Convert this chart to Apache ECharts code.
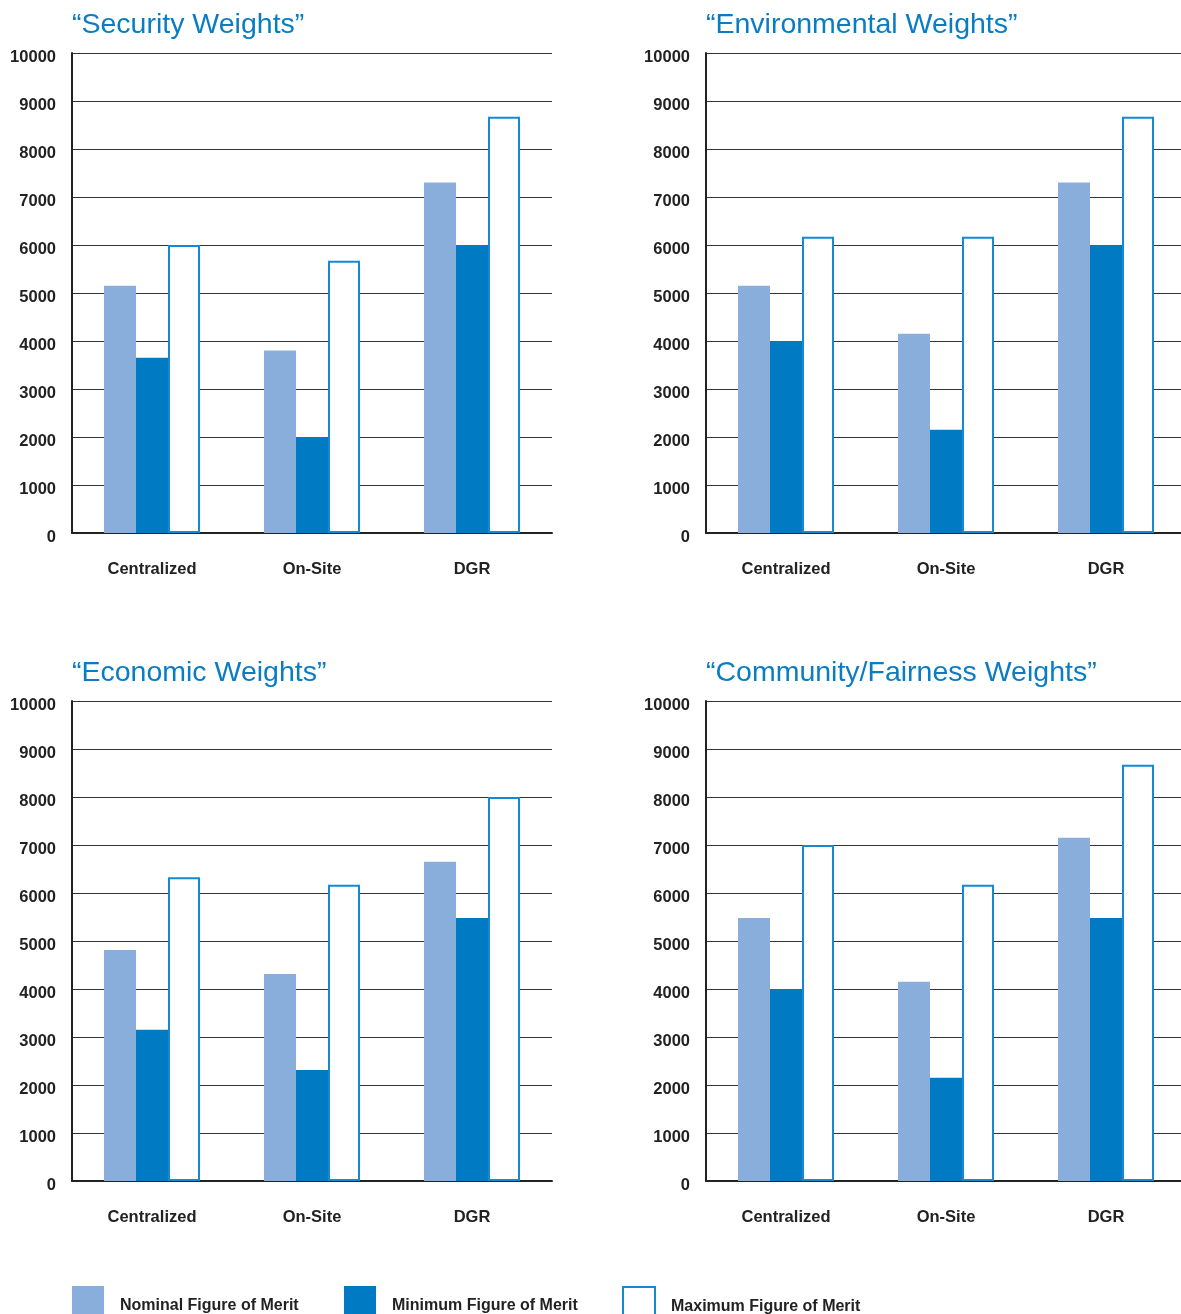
<!DOCTYPE html>
<html><head><meta charset="utf-8">
<script src="https://cdn.jsdelivr.net/npm/echarts@6/dist/echarts.min.js"></script>
<style>html,body{margin:0;padding:0;background:#fff;overflow:hidden}#c{width:1200px;height:1314px}</style>
</head><body><div id="c"></div>
<script>
const categories = ["Centralized", "On-Site", "DGR"];
const yTicks = [0,1000,2000,3000,4000,5000,6000,7000,8000,9000,10000];
const seriesNames = ["Nominal Figure of Merit", "Minimum Figure of Merit", "Maximum Figure of Merit"];
const titles = ["\u201CSecurity Weights\u201D", "\u201CEnvironmental Weights\u201D", "\u201CEconomic Weights\u201D", "\u201CCommunity/Fairness Weights\u201D"];

const securityNominal = [5150, 3800, 7300];
const securityMinimum = [3650, 2000, 6000];
const securityMaximum = [6000, 5670, 8670];

const environmentalNominal = [5150, 4150, 7300];
const environmentalMinimum = [4000, 2150, 6000];
const environmentalMaximum = [6170, 6170, 8670];

const economicNominal = [4810, 4310, 6650];
const economicMinimum = [3150, 2310, 5480];
const economicMaximum = [6330, 6170, 8000];

const communityNominal = [5480, 4150, 7150];
const communityMinimum = [4000, 2150, 5480];
const communityMaximum = [7000, 6170, 8670];

const panels = [
  [securityNominal, securityMinimum, securityMaximum],
  [environmentalNominal, environmentalMinimum, environmentalMaximum],
  [economicNominal, economicMinimum, economicMaximum],
  [communityNominal, communityMinimum, communityMaximum]
];

const FONT = "'Liberation Sans', Arial, Helvetica, sans-serif";
const C_NOM = '#8aaedb', C_MIN = '#007bc3', C_MAX = '#1589d2';
const lefts = [72, 706, 72, 706], tops = [53, 53, 701, 701];

const grids = [], xAxes = [], yAxes = [], series = [], titleOpts = [];
panels.forEach((p, i) => {
  grids.push({left: lefts[i], top: tops[i], width: 480, height: 480, containLabel: false});
  xAxes.push({type: 'category', gridIndex: i, data: categories,
    axisLine: {show: true, lineStyle: {color: '#222', width: 2}},
    axisTick: {show: false},
    axisLabel: {margin: 28, fontFamily: FONT, fontWeight: 'bold', fontSize: 16.5, color: '#222'}});
  yAxes.push({type: 'value', gridIndex: i, min: yTicks[0], max: yTicks[yTicks.length-1], interval: yTicks[1]-yTicks[0],
    axisLine: {show: true, lineStyle: {color: '#222', width: 2}},
    axisTick: {show: false},
    splitLine: {show: true, lineStyle: {color: '#333', width: 1}},
    axisLabel: {margin: 16, color: '#222',
      formatter: v => '{a|' + v + '}',
      rich: {a: {fontFamily: FONT, fontWeight: 'bold', fontSize: 16.5, color: '#222', padding: [9, 0, 0, 0]}}}});
  titleOpts.push({text: titles[i], left: lefts[i], top: tops[i] - 42, padding: 0,
    textStyle: {fontFamily: FONT, fontWeight: 'normal', fontSize: 28.5, color: '#0a7cc4'}});
  const styles = [
    {color: C_NOM},
    {color: C_MIN},
    {color: '#fff', borderColor: C_MAX, borderWidth: 2}
  ];
  p.forEach((vals, k) => {
    series.push({type: 'bar', name: seriesNames[k], xAxisIndex: i, yAxisIndex: i, data: vals,
      barWidth: 32, barGap: '0%', itemStyle: styles[k], emphasis: {disabled: true}, animation: false});
  });
});

const legendLefts = [72, 344, 622];
const legends = seriesNames.map((n, k) => ({
  data: [n], left: legendLefts[k], top: 1286, orient: 'horizontal', padding: 0,
  itemWidth: 32, itemHeight: 28, itemGap: 0, icon: 'rect',
  formatter: '{a|{name}}',
  textStyle: {padding: [0, 0, 0, 11],
    rich: {a: {fontFamily: FONT, fontWeight: 'bold', fontSize: 16, color: '#222', padding: [12, 0, 0, 0]}}},
  selectedMode: false
}));

const chart = echarts.init(document.getElementById('c'), null, {renderer: 'canvas'});
chart.setOption({
  animation: false,
  title: titleOpts,
  grid: grids, xAxis: xAxes, yAxis: yAxes, series: series, legend: legends
});
</script></body></html>
